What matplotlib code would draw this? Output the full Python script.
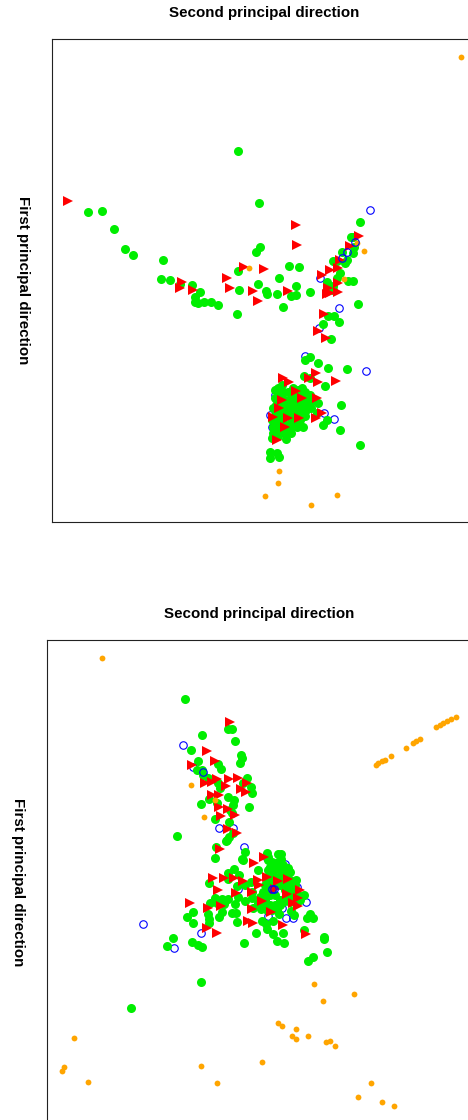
"""Two PCA score plots, first vs second principal direction, with four sample groups."""
import matplotlib

matplotlib.use("Agg")
import matplotlib.pyplot as plt

plt.rcParams["font.family"] = ["Liberation Sans", "DejaVu Sans"]

# scores have no ticks on the axes, so values are in the plot's own reading units
top_orange = [(461, 57), (265, 496), (278, 483), (279, 471), (311, 505), (337, 495), (364, 251),
              (249, 268), (344, 279), (357, 243)]
top_blue = [(320, 278), (339, 308), (319, 328), (305, 356), (366, 371), (324, 413), (334, 419),
            (272, 427), (280, 427), (275, 395), (270, 415), (290, 412)]
# these few sit on top of the green points
top_blue_front = [(370, 210), (355, 242), (347, 252), (342, 258)]
top_green = [(238, 151), (259, 203), (88, 212), (102, 211), (114, 229), (125, 249), (133, 255),
             (163, 260), (161, 279), (170, 280), (180, 284), (192, 285), (200, 292), (195, 297),
             (195, 302), (198, 303), (204, 302), (211, 302), (218, 305), (237, 314), (238, 271),
             (239, 290), (360, 222), (351, 237), (353, 237), (354, 247), (353, 253), (342, 252),
             (333, 261), (337, 261), (347, 260), (345, 263), (340, 273), (337, 278), (327, 282),
             (333, 286), (333, 290), (348, 281), (353, 281), (358, 304), (328, 316), (334, 316),
             (339, 322), (323, 324), (331, 339), (260, 247), (256, 252), (289, 266), (299, 267),
             (279, 278), (258, 284), (266, 291), (267, 294), (277, 294), (296, 286), (296, 295),
             (291, 296), (310, 292), (283, 307), (310, 357), (305, 360), (318, 363), (328, 368),
             (347, 369), (304, 376), (310, 378), (325, 386), (341, 405), (317, 413), (327, 420),
             (323, 425), (340, 430), (360, 445), (275, 390), (282, 385), (288, 392), (302, 388),
             (310, 395), (318, 403), (275, 398), (273, 408), (272, 420), (273, 427), (273, 433),
             (272, 438), (286, 439), (291, 433), (297, 427), (303, 427), (305, 416), (293, 423),
             (285, 432), (270, 452), (270, 458), (277, 453), (279, 457), (280, 395), (285, 400),
             (290, 400), (295, 395), (300, 395), (305, 392), (280, 405), (285, 410), (290, 405),
             (295, 405), (300, 405), (305, 405), (310, 403), (278, 415), (283, 418), (288, 425),
             (295, 415), (300, 412), (280, 425), (275, 415), (283, 432), (278, 388), (283, 392),
             (293, 388), (298, 390), (278, 400), (283, 406), (288, 410), (293, 410), (298, 400),
             (303, 400), (307, 398), (313, 400), (276, 405), (276, 411), (281, 412), (286, 415),
             (291, 418), (296, 420), (300, 420), (276, 422), (280, 430), (285, 425), (291, 427),
             (278, 436), (311, 408), (306, 410), (303, 415)]
top_red = [(68, 201), (182, 282), (180, 288), (193, 290), (227, 278), (230, 288), (296, 225),
           (297, 245), (244, 267), (264, 269), (253, 291), (258, 301), (288, 291), (359, 236),
           (350, 246), (340, 260), (338, 268), (330, 270), (322, 275), (338, 283), (328, 288),
           (327, 294), (338, 292), (330, 293), (324, 314), (318, 331), (326, 338), (283, 378),
           (289, 382), (316, 373), (309, 378), (318, 382), (336, 381), (296, 391), (317, 398),
           (282, 400), (302, 398), (279, 408), (273, 417), (288, 418), (299, 418), (316, 418),
           (322, 413), (285, 427), (277, 440)]

bottom_orange = [(102, 658), (456, 717), (451, 719), (447, 721), (443, 723), (440, 725), (436, 727),
                 (420, 739), (416, 741), (413, 743), (406, 748), (391, 756), (385, 760), (382, 761),
                 (378, 763), (376, 765), (191, 785), (204, 817), (215, 800), (354, 994), (323, 1001),
                 (314, 984), (278, 1023), (282, 1026), (296, 1029), (308, 1036), (292, 1036),
                 (296, 1039), (326, 1042), (330, 1041), (335, 1046), (74, 1038), (64, 1067),
                 (62, 1071), (88, 1082), (201, 1066), (217, 1083), (262, 1062), (371, 1083),
                 (358, 1097), (382, 1102), (394, 1106)]
bottom_blue = [(183, 745), (193, 767), (219, 828), (233, 828), (244, 847), (143, 924), (201, 933),
               (174, 948), (286, 918), (293, 918), (306, 902), (268, 916), (285, 864), (267, 858),
               (238, 889), (297, 887), (282, 908)]
bottom_blue_front = [(203, 772), (272, 889), (274, 889)]
bottom_green = [(185, 699), (202, 735), (228, 729), (232, 729), (235, 741), (191, 750), (241, 755),
                (242, 758), (240, 763), (198, 761), (197, 770), (202, 770), (203, 775), (208, 778),
                (218, 764), (221, 769), (218, 783), (220, 788), (247, 778), (243, 783), (251, 787),
                (252, 793), (228, 797), (234, 800), (233, 805), (230, 810), (232, 813), (209, 799),
                (201, 804), (217, 803), (249, 807), (215, 819), (229, 822), (233, 833), (229, 837),
                (227, 840), (177, 836), (216, 847), (245, 852), (215, 858), (242, 859), (267, 853),
                (268, 860), (278, 854), (226, 841), (243, 860), (281, 854), (281, 859), (270, 867),
                (258, 870), (234, 869), (228, 873), (239, 875), (228, 879), (209, 883), (237, 886),
                (251, 882), (245, 885), (263, 892), (252, 892), (252, 898), (245, 901), (238, 897),
                (235, 904), (228, 899), (222, 899), (215, 898), (210, 903), (217, 903), (224, 904),
                (253, 908), (261, 909), (193, 912), (187, 917), (193, 923), (208, 914), (209, 919),
                (209, 923), (222, 912), (219, 917), (232, 913), (236, 913), (237, 922), (262, 921),
                (266, 924), (267, 929), (256, 933), (273, 921), (279, 914), (291, 911), (294, 915),
                (307, 918), (310, 914), (313, 918), (273, 934), (283, 933), (277, 941), (284, 943),
                (244, 943), (304, 930), (324, 937), (324, 939), (327, 952), (313, 957), (308, 961),
                (173, 938), (167, 946), (192, 942), (198, 945), (202, 947), (201, 982), (131, 1008),
                (272, 872), (275, 878), (280, 870), (285, 875), (290, 880), (280, 885), (285, 890),
                (290, 888), (295, 892), (298, 895), (265, 885), (270, 895), (275, 895), (280, 900),
                (285, 898), (290, 897), (265, 900), (270, 905), (275, 905), (280, 905), (270, 880),
                (275, 865), (283, 865), (290, 872), (295, 885), (268, 857), (272, 862), (278, 862),
                (273, 868), (278, 868), (284, 870), (288, 868), (268, 870), (273, 875), (280, 876),
                (286, 880), (291, 884), (296, 880), (266, 878), (270, 886), (275, 884), (280, 880),
                (283, 884), (287, 886), (292, 892), (296, 897), (301, 897), (266, 892), (260, 897),
                (258, 903), (262, 905), (267, 910), (272, 910), (277, 910), (283, 902), (290, 902),
                (294, 900), (300, 900), (304, 895)]
bottom_red = [(230, 722), (207, 751), (215, 761), (192, 765), (229, 779), (238, 778), (247, 783),
              (226, 786), (217, 779), (212, 782), (205, 783), (241, 789), (246, 792), (219, 795),
              (212, 795), (219, 807), (228, 809), (221, 816), (235, 815), (228, 829), (237, 833),
              (220, 849), (264, 857), (254, 863), (213, 878), (224, 878), (234, 878), (243, 881),
              (258, 880), (267, 877), (278, 881), (288, 879), (259, 885), (218, 890), (236, 893),
              (252, 892), (275, 889), (287, 894), (300, 890), (298, 898), (293, 903), (262, 901),
              (190, 903), (208, 908), (221, 906), (298, 906), (271, 912), (248, 921), (253, 923),
              (207, 928), (217, 933), (283, 925), (306, 934), (252, 909)]

XLABEL = "Second principal direction"
YLABEL = "First principal direction"
W, H = 468, 1120


def draw_panel(ax, left, top, orange, blue, blue_front, green, red):
    ax.set_xlim(left, left + 483)
    ax.set_ylim(top + 483, top)
    ax.set_xticks([])
    ax.set_yticks([])
    for s in ax.spines.values():
        s.set_linewidth(0.8)
        s.set_color("#222222")
    ax.plot(*zip(*blue), "o", ms=5.4, mfc="none", mec="#0000ff", mew=0.8)
    ax.plot(*zip(*green), "o", ms=6.5, color="#00ee00", mew=0)
    ax.plot(*zip(*red), ">", ms=7.8, color="#ff0000", mew=0)
    ax.plot(*zip(*orange), "o", ms=4.2, color="#ffa500", mew=0)
    ax.plot(*zip(*blue_front), "o", ms=5.4, mfc="none", mec="#0000ff", mew=0.8)


fig = plt.figure(figsize=(W / 100, H / 100), dpi=100)

# axes are square and run past the right and bottom of the canvas, as in the source
ax1 = fig.add_axes([52 / W, (H - 522) / H, 483 / W, 483 / H])
draw_panel(ax1, 52, 39, top_orange, top_blue, top_blue_front, top_green, top_red)
ax2 = fig.add_axes([47 / W, (H - 1123) / H, 483 / W, 483 / H])
draw_panel(ax2, 47, 640, bottom_orange, bottom_blue, bottom_blue_front, bottom_green, bottom_red)

for x, y, s, rot in [(264, 13, XLABEL, 0), (259, 614, XLABEL, 0),
                     (23, 280, YLABEL, 270), (18, 882, YLABEL, 270)]:
    fig.text(x / W, 1 - y / H, s, rotation=rot, fontsize=10.9, fontweight="bold",
             ha="center", va="center")

fig.savefig("out.png", dpi=100)
